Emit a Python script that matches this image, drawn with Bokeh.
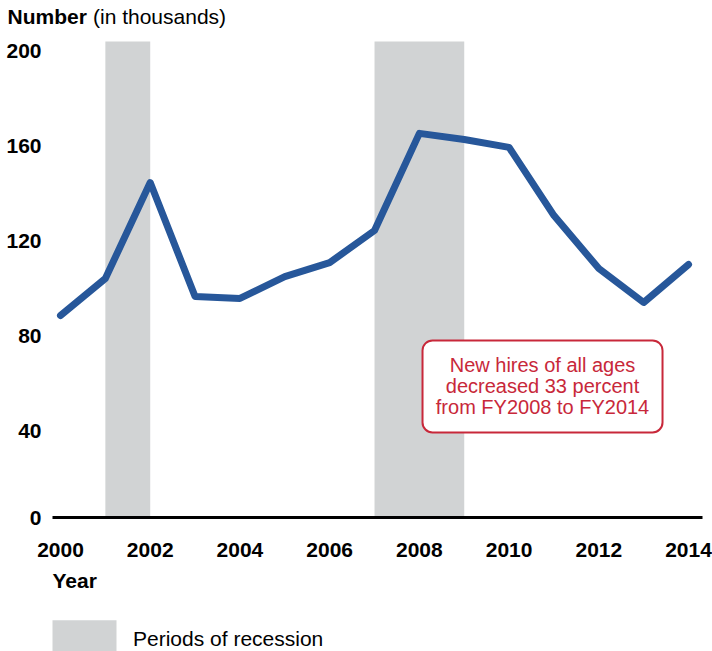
from bokeh.plotting import figure
from bokeh.models import (Range1d, FixedTicker, Label, BoxAnnotation, Legend, LegendItem)
from bokeh.embed import file_html
from bokeh.resources import INLINE

# ---- data ----
years = [2000, 2001, 2002, 2003, 2004, 2005, 2006, 2007, 2008, 2009, 2010, 2011, 2012, 2013, 2014]
new_hires = [88.4, 104.0, 144.4, 96.4, 95.6, 104.8, 110.7, 124.2, 165.1, 162.5, 159.2, 130.5, 108.2, 93.9, 109.9]
recession_start = [2001, 2007]
recession_end = [2002, 2009]
x_ticks = [2000, 2002, 2004, 2006, 2008, 2010, 2012, 2014]
y_ticks = [40, 80, 120, 160, 200]
y_tick_labels = ["40", "80", "120", "160", "200"]
title_bold = "Number"
title_rest = "(in thousands)"
x_title = "Year"
legend_label = "Periods of recession"
note_text = "New hires of all ages\ndecreased 33 percent\nfrom FY2008 to FY2014"

FONT = "Liberation Sans"
LINE_COLOR = "#27579a"
BAND_COLOR = "#d1d3d4"
RED = "#c8283a"

W, H = 712, 651
PX_PER_YEAR = 44.86
PX_PER_UNIT = 2.375
X_AT_2000 = 60      # canvas px
Y_AT_0 = 525        # canvas px

x_start = 2000 - X_AT_2000 / PX_PER_YEAR
x_end = x_start + W / PX_PER_YEAR
y_end = Y_AT_0 / PX_PER_UNIT
y_start = y_end - H / PX_PER_UNIT

AX_LEFT = x_start + 52 / PX_PER_YEAR        # left end of plotting area
AX_RIGHT = x_start + 702 / PX_PER_YEAR      # right end of baseline
BASE = (Y_AT_0 - 517) / PX_PER_UNIT         # baseline (drawn "0" line)
TOP = (Y_AT_0 - 41) / PX_PER_UNIT           # top of plotting area

p = figure(width=W, height=H, output_backend="svg", toolbar_location=None,
           x_range=Range1d(x_start, x_end), y_range=Range1d(y_start, y_end),
           min_border=0, min_border_left=0, min_border_right=0,
           min_border_top=0, min_border_bottom=0)
p.outline_line_color = None
p.xgrid.grid_line_color = None
p.ygrid.grid_line_color = None
p.background_fill_color = "white"
p.border_fill_color = "white"

# recession bands
bands = p.quad(left=recession_start, right=recession_end,
               bottom=[BASE] * len(recession_start), top=[TOP] * len(recession_start),
               fill_color=BAND_COLOR, line_color=None)

# main line
p.line(years, new_hires, line_width=7, line_color=LINE_COLOR, line_join="round", line_cap="round")

# x axis
xa = p.xaxis[0]
xa.fixed_location = BASE
xa.bounds = (AX_LEFT, AX_RIGHT)
xa.ticker = FixedTicker(ticks=x_ticks)
xa.axis_line_color = "black"
xa.axis_line_width = 3
xa.major_tick_line_color = None
xa.minor_tick_line_color = None
xa.major_tick_out = 0
xa.major_tick_in = 0
xa.major_label_standoff = 25
xa.major_label_text_font = FONT
xa.major_label_text_font_style = "bold"
xa.major_label_text_font_size = "21px"
xa.major_label_text_color = "black"

# y axis
ya = p.yaxis[0]
ya.fixed_location = AX_LEFT
ya.ticker = FixedTicker(ticks=[BASE] + y_ticks)
overrides = {BASE: "0"}
for t, lab in zip(y_ticks, y_tick_labels):
    overrides[t] = lab
ya.major_label_overrides = overrides
ya.axis_line_color = None
ya.major_tick_line_color = None
ya.minor_tick_line_color = None
ya.major_tick_out = 0
ya.major_tick_in = 0
ya.major_label_standoff = 11
ya.major_label_text_font = FONT
ya.major_label_text_font_style = "bold"
ya.major_label_text_font_size = "21px"
ya.major_label_text_color = "black"

# titles (screen units, from bottom-left of canvas)
p.add_layout(Label(x=7, y=H - 16, x_units="screen", y_units="screen", text=title_bold,
                   text_font=FONT, text_font_style="bold", text_font_size="21px",
                   text_color="black", text_baseline="alphabetic"))
p.add_layout(Label(x=92.5, y=H - 16, x_units="screen", y_units="screen", text=title_rest,
                   text_font=FONT, text_font_size="21px", text_color="black",
                   text_baseline="alphabetic"))
p.add_layout(Label(x=52, y=H - 580, x_units="screen", y_units="screen", text=x_title,
                   text_font=FONT, text_font_style="bold", text_font_size="21px",
                   text_color="black", text_baseline="alphabetic"))

# annotation box
p.add_layout(BoxAnnotation(left=2008.07, right=2013.42, top=77.9, bottom=39.2,
                           fill_color="white", fill_alpha=1.0, line_color=RED, line_width=2,
                           line_alpha=1.0, border_radius=10))
p.add_layout(Label(x=2010.745, y=58.9, text=note_text, text_font=FONT, text_font_size="20px",
                   text_color=RED, text_align="center", text_baseline="middle",
                   text_line_height=0.95))

# legend (area glyphs are drawn with a 10% inset inside the glyph box)
legend = Legend(items=[LegendItem(label=legend_label, renderers=[bands])],
                location=(44, -12), orientation="vertical",
                glyph_width=80, glyph_height=48, label_standoff=9,
                label_text_font=FONT, label_text_font_size="21px", label_text_color="black",
                padding=0, margin=0, spacing=0, border_line_color=None,
                background_fill_alpha=0)
p.add_layout(legend)

open("out.html", "w").write(file_html(p, INLINE))
